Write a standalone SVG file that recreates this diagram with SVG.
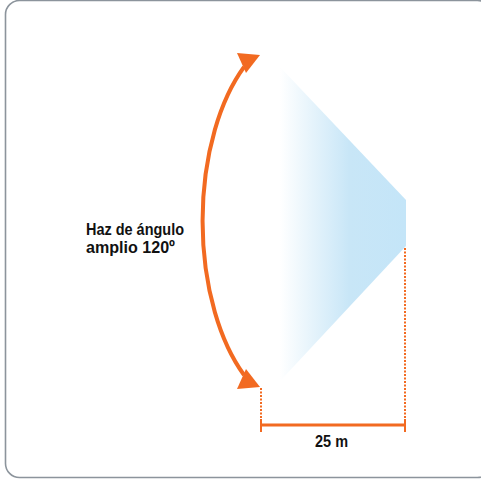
<svg xmlns="http://www.w3.org/2000/svg" width="481" height="479" viewBox="0 0 481 479">
<style>
.lbl{font-family:"Liberation Sans",Arial,sans-serif;font-weight:bold;fill:#111;}
.orange{fill:#f26a21;}
.dot{stroke:#f26a21;stroke-width:2;stroke-dasharray:2 1.5;fill:none;}
</style>
<defs>
<linearGradient id="beam" x1="280" y1="0" x2="406" y2="0" gradientUnits="userSpaceOnUse">
<stop offset="0" stop-color="#ffffff"/>
<stop offset="0.55" stop-color="#c8e6f7"/>
<stop offset="1" stop-color="#c4e5f8"/>
</linearGradient>
</defs>
<rect x="5.5" y="0.5" width="486" height="477" rx="14" fill="#ffffff" stroke="#8c949c" stroke-width="1.6"/>
<g id="beam-shape">
<polygon points="280,67 406,200 406,246 281,380 280,380" fill="url(#beam)"/>
</g>
<g id="angle-arrow">
<path d="M244,67 A100,190 0 0 0 244,375" fill="none" stroke="#f26a21" stroke-width="4"/>
<polygon class="orange" points="237,53 260,55 246,73"/>
<polygon class="orange" points="237,389 260,387 246,369"/>
</g>
<g id="label-angle">
<text class="lbl" x="86" y="235" font-size="17" textLength="98" lengthAdjust="spacingAndGlyphs">Haz de ángulo</text>
<text class="lbl" x="86" y="253" font-size="17" textLength="89" lengthAdjust="spacingAndGlyphs">amplio 120º</text>
</g>
<g id="connectors">
<line class="dot" x1="261" y1="388" x2="261" y2="424"/>
<line class="dot" x1="405" y1="248" x2="405" y2="424"/>
<line x1="261" y1="425" x2="405" y2="425" stroke="#f26a21" stroke-width="3"/>
<line x1="261" y1="419" x2="261" y2="432" stroke="#f26a21" stroke-width="2"/>
<line x1="405" y1="419" x2="405" y2="432" stroke="#f26a21" stroke-width="2"/>
</g>
<g id="label-distance">
<text class="lbl" x="315" y="447" font-size="16.5" textLength="33" lengthAdjust="spacingAndGlyphs">25 m</text>
</g>
</svg>
